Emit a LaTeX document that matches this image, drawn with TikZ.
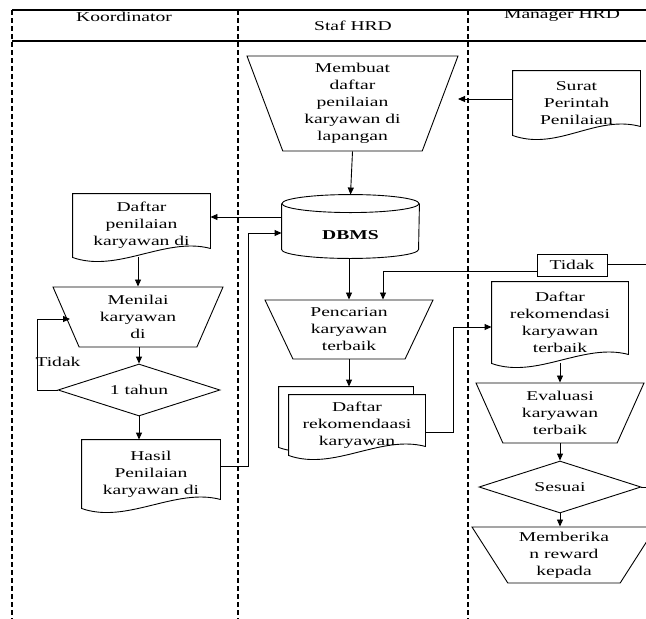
\documentclass[tikz,border=0pt]{standalone}
\usepackage{fontspec}
\setmainfont{Liberation Serif}[FakeStretch=1.45]
\usetikzlibrary{arrows.meta,positioning,shapes.geometric,backgrounds}

\newcommand{\docshape}[2][]{%
  \draw[line width=0.9pt, #1] (#2.north west) -- (#2.south west)
    .. controls +(45,16) and +(-45,-12) .. ([yshift=9pt]#2.south east)
    -- (#2.north east) -- cycle;}

\begin{document}
\begin{tikzpicture}[x=1pt, y=-1pt, line width=0.9pt,
  every node/.style={font=\fontsize{13.5}{17}\selectfont, align=center, inner sep=2pt},
  lane/.style={line width=1.1pt, dash pattern=on 5pt off 3pt},
  arr/.style={-{Triangle[length=7pt,width=6pt]}},
  proc/.style={trapezium, draw, trapezium left angle=#1, trapezium right angle=#1, trapezium stretches body},
  dec/.style={diamond, draw, aspect=3, minimum width=162pt, minimum height=52pt, inner sep=0pt}]
\useasboundingbox (0,0) rectangle (646,619);
\clip (0,0) rectangle (646,619);

\draw[line width=1.3pt] (12,10) -- (646,10);
\draw[line width=1.3pt] (12,41) -- (646,41);
\foreach \lx in {12,238,468}
  \draw[lane] (\lx,10) -- (\lx,619);

\node (koord) at (124,17) {Koordinator};
\node (staf) at (353,26) {Staf HRD};
\node (mgr) at (562,16) {Manager HRD};

\node[proc=113, minimum width=211pt, minimum height=95pt] (membuat) at (352.5,103.5) {Membuat\\daftar\\penilaian\\karyawan di\\lapangan};
\node[minimum width=127pt, minimum height=64pt] (surat) at (576.5,103) {Surat\\Perintah\\Penilaian};
\coordinate (suratend) at (458,99);
\node[minimum width=137pt, minimum height=45pt] (dbms) at (350.5,235.5) {\textbf{DBMS}};

\node[minimum width=137pt, minimum height=63pt] (daftar) at (141.5,225.5) {Daftar\\penilaian\\karyawan di};
\node[proc=118.8, minimum width=170pt, minimum height=60pt] (menilai) at (138,317) {Menilai\\karyawan\\di};
\coordinate (menilaiin) at (70,319);
\node[dec] (tahun) at (139,390) {1 tahun};
\node (tidak1) at (58,362) {Tidak};
\node[minimum width=138pt, minimum height=68pt] (hasil) at (151,474) {Hasil\\Penilaian\\karyawan di};

\node[proc=120.7, minimum width=168pt, minimum height=59pt] (cari) at (349,329.5) {Pencarian\\karyawan\\terbaik};
\node[minimum width=134pt, minimum height=60pt] (rekomback) at (346,417) {};
\node[minimum width=136pt, minimum height=60pt] (rekom) at (357,425) {Daftar\\rekomendaasi\\karyawan};

\node[draw, minimum width=70pt, minimum height=22pt] (tidak2) at (572,265) {Tidak};
\node[minimum width=136pt, minimum height=81pt] (mrekom) at (560,322.5) {Daftar\\rekomendasi\\karyawan\\terbaik};
\node[proc=119.5, minimum width=168pt, minimum height=60pt] (eval) at (560,413) {Evaluasi\\karyawan\\terbaik};
\node[dec] (sesuai) at (560,487) {Sesuai};
\node[proc=125.5, minimum width=184pt, minimum height=56pt] (beri) at (564,555) {Memberika\\n reward\\kepada};

\docshape{surat}
\docshape{daftar}
\docshape{hasil}
\docshape{mrekom}
\begin{scope}[on background layer]
\docshape[fill=white]{rekomback}
\docshape[fill=white]{rekom}
\end{scope}
\draw ([yshift=9pt]dbms.north west) -- ([yshift=9pt]dbms.south west)
  arc[start angle=180, end angle=360, x radius=68.5pt, y radius=9pt]
  -- ([yshift=9pt]dbms.north east);
\draw ([yshift=9pt]dbms.north) ellipse [x radius=68.5pt, y radius=9pt];

\draw[arr] ([yshift=4pt]surat.west) -- (suratend);
\draw[arr] (membuat.south) -- ([yshift=18pt]dbms.north);
\draw[arr] ([yshift=18.5pt]dbms.west) -- ([yshift=18.5pt]dbms.west -| daftar.east);
\draw[arr] (daftar.south -| menilai.north) -- (menilai.north);
\draw[arr] (menilai.south -| tahun.north) -- (tahun.north);
\draw[arr] (tahun.west) -- ++(-20,0) |- (menilaiin);
\draw[arr] (tahun.south) -- (tahun.south |- hasil.north);
\draw[arr] ([yshift=8pt]hasil.east) -- ++(28,0) |- ([yshift=2.5pt]dbms.west);
\draw[arr] (dbms.south -| cari.north) -- (cari.north);
\draw[arr] ([yshift=-6pt]tidak2.west) -| ([xshift=34pt]cari.north);
\draw[arr] (cari.south) -- (cari.south |- rekomback.north);
\draw[arr] ([yshift=-7pt]rekom.east) -- ++(28,0) |- ([yshift=-4.5pt]mrekom.west);
\draw[arr] (eval.north |- mrekom.south) -- (eval.north);
\draw[arr] (eval.south -| sesuai.north) -- (sesuai.north);
\draw[arr] (sesuai.south) -- (sesuai.south |- beri.north);
\draw (sesuai.east) -- ++(16,0) |- ([yshift=1pt]tidak2.east);
\end{tikzpicture}
\end{document}
